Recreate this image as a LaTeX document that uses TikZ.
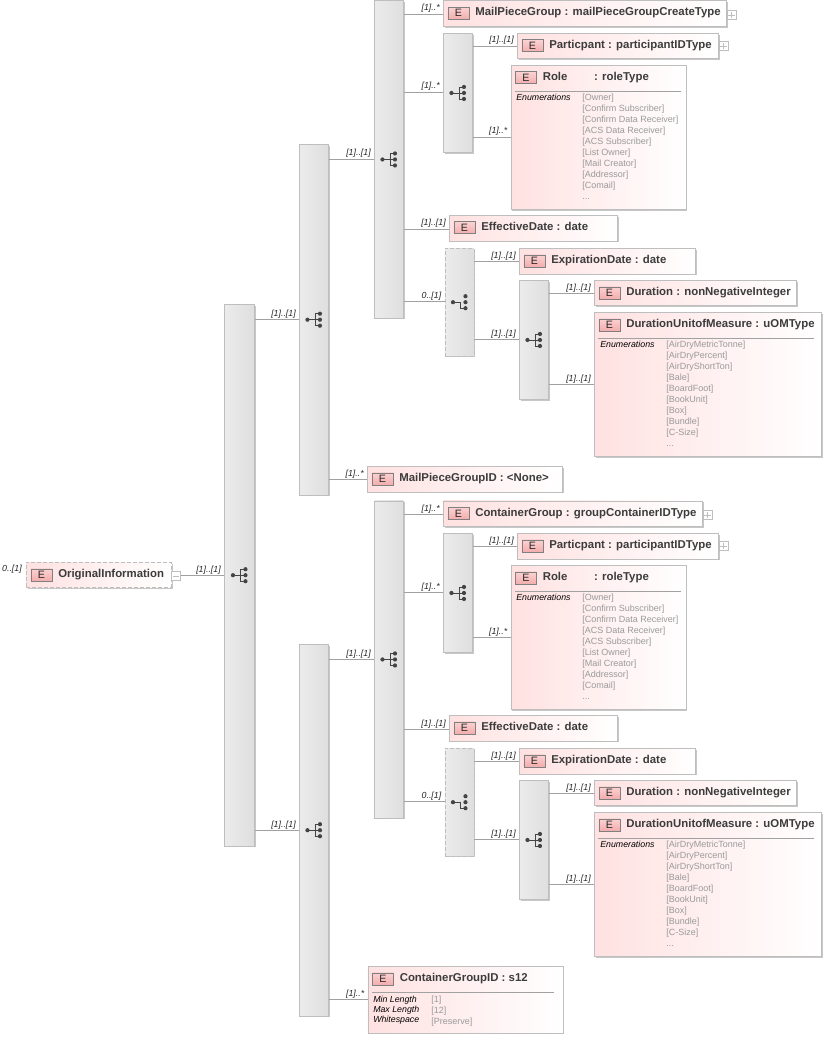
\documentclass[tikz,border=0pt]{standalone}
\usepackage{fontspec}
\setmainfont{Liberation Sans}
\usetikzlibrary{shadows}
\definecolor{pk}{HTML}{FFD2D2}
\definecolor{edge}{HTML}{BEBEBE}
\definecolor{titlec}{HTML}{3C3C3C}
\definecolor{valc}{HTML}{9A9A9A}
\definecolor{bl}{HTML}{F2F2F2}
\definecolor{br}{HTML}{D8D8D8}
\definecolor{ico}{HTML}{444444}
\definecolor{el}{HTML}{FFE4E4}
\definecolor{er}{HTML}{F09A9A}
\pgfdeclarehorizontalshading{pinkfade}{100bp}{color(0bp)=(pk);color(75bp)=(white);color(100bp)=(white)}
\pgfdeclarehorizontalshading{barfade}{100bp}{color(0bp)=(bl);color(100bp)=(br)}
\pgfdeclareverticalshading{efade}{100bp}{color(0bp)=(er);color(100bp)=(el)}
\tikzset{
  softshadow/.style={drop shadow={shadow xshift=.9pt,shadow yshift=-.9pt,fill=black,opacity=.22}},
  box/.style={draw=edge,line width=.7pt,inner sep=0pt,anchor=north west,shading=pinkfade,softshadow},
  bar/.style={draw=edge,line width=.7pt,inner sep=0pt,anchor=north west,shading=barfade,softshadow},
  opt/.style={dash pattern=on 3pt off 1.5pt},
  conn/.style={draw=edge!85!black,line width=.6pt},
  mult/.style={inner sep=0pt,anchor=base east,font=\fontsize{6.6}{8}\selectfont\itshape,text=black!85},
  titletxt/.style={inner sep=0pt,anchor=base west,font=\fontsize{8.55}{10}\selectfont\bfseries,text=titlec},
  etag/.style={draw=black!50,line width=.5pt,inner sep=0pt,anchor=north west,minimum width=16pt,minimum height=9pt,shading=efade,font=\fontsize{8}{8}\selectfont,text=black!85,text depth=0pt},
  facetkey/.style={inner sep=0pt,anchor=north west,align=left,font=\fontsize{6.6}{8}\selectfont\itshape,text=black},
  facetval/.style={inner sep=0pt,anchor=north west,align=left,font=\fontsize{6.75}{8.25}\selectfont,text=valc},
  tog/.style={draw=edge,line width=.5pt,fill=white,inner sep=0pt,minimum size=6.8pt,anchor=north west},
  rule/.style={draw=edge!85!black,line width=.6pt},
}
\newcommand{\nl}{\\{}}
\newcommand{\elembox}[7][]{% opts, id, x, y, w, h, title
  \node[box,#1,minimum width=#5*.75pt,minimum height=#6*.75pt] (#2) at (#3,#4) {};
  \node[etag] (#2-e) at (#3+4.5,#4+6.5) {E};
  \node[titletxt] (#2-t) at (#3+32,#4+15.5) {#7};
}
\newcommand{\seqbar}[6][]{% opts, id, x, y, w, h
  \node[bar,#1,minimum width=#5*.75pt,minimum height=#6*.75pt] (#2) at (#3,#4) {};
}
\newcommand{\seqicon}[1]{%
  \begin{scope}[shift={(#1.center)}]
    \draw[ico,line width=.6pt] (-6,0) -- (1,0) (1,-6) -- (1,6) (1,-6) -- (6,-6) (1,0) -- (6,0) (1,6) -- (6,6);
    \fill[ico] (-6.5,0) circle[radius=2.1] (6,-6) circle[radius=2.1] (6,0) circle[radius=2.1] (6,6) circle[radius=2.1];
  \end{scope}}
\newcommand{\choiceicon}[1]{%
  \begin{scope}[shift={(#1.center)}]
    \draw[ico,line width=.6pt] (-6,0) -- (1,0) -- (1,6) -- (6,6);
    \fill[ico] (-6.5,0) circle[radius=2.1] (6,-6) circle[radius=2.1] (6,0) circle[radius=2.1] (6,6) circle[radius=2.1];
  \end{scope}}
\newcommand{\linkup}[4]{% from, to, y, label
  \draw[conn] (#1.east |- 0,#3) -- (#2.west |- 0,#3);
  \path (#2.west |- 0,#3) ++(-3,-3) node[mult] (#1-#2-m) {#4};
}
\newcommand{\togbox}[4]{% id, x, y, plus or minus
  \node[tog] (#1) at (#2,#3) {};
  \draw[edge,line width=.5pt] ([xshift=1.3pt]#1.west) -- ([xshift=-1.3pt]#1.east);
  \ifx#4p\draw[edge,line width=.5pt] ([yshift=1.3pt]#1.south) -- ([yshift=-1.3pt]#1.north);\fi
}
\newcommand{\branch}[4]{% prefix, head title, head width, head toggle x
  \seqbar{#1s}{374}{0.5}{29}{317}
  \seqicon{#1s}
  \elembox{#1g}{443}{0.5}{#3}{25.5}{#2}
  \togbox{#1gt}{#4}{10}{p}
  \seqbar{#1r}{443}{33}{29}{119}
  \seqicon{#1r}
  \elembox{#1p}{517}{33}{201}{25.5}{Particpant : participantIDType}
  \togbox{#1pt}{718.5}{41}{p}
  \elembox{#1o}{510.5}{65}{175}{144}{Role\hspace{20pt}: roleType}
  \draw[rule] (514.5,91) -- (681,91);
  \node[facetkey] (#1ok) at (516,94) {Enumerations};
  \node[facetval] (#1ov) at (582,94) {[Owner]\nl [Confirm Subscriber]\nl [Confirm Data Receiver]\nl [ACS Data Receiver]\nl [ACS Subscriber]\nl [List Owner]\nl [Mail Creator]\nl [Addressor]\nl [Comail]\nl ...};
  \elembox{#1f}{449}{215}{168}{25.5}{EffectiveDate : date}
  \seqbar[opt]{#1c}{444.5}{248}{29}{107.5}
  \choiceicon{#1c}
  \elembox{#1x}{519}{248}{176}{25.5}{ExpirationDate : date}
  \seqbar{#1u}{519}{280}{29}{119}
  \seqicon{#1u}
  \elembox{#1d}{594}{280}{202}{25}{Duration : nonNegativeInteger}
  \elembox{#1m}{594}{312}{227}{144}{DurationUnitofMeasure : uOMType}
  \draw[rule] (598,338) -- (814,338);
  \node[facetkey] (#1mk) at (600,341) {Enumerations};
  \node[facetval] (#1mv) at (666,341) {[AirDryMetricTonne]\nl [AirDryPercent]\nl [AirDryShortTon]\nl [Bale]\nl [BoardFoot]\nl [BookUnit]\nl [Box]\nl [Bundle]\nl [C-Size]\nl ...};
  \linkup{#1s}{#1g}{14}{[1]..*}
  \linkup{#1s}{#1r}{92}{[1]..*}
  \linkup{#1s}{#1f}{229}{[1]..[1]}
  \linkup{#1s}{#1c}{301}{0..[1]}
  \linkup{#1r}{#1p}{46}{[1]..[1]}
  \linkup{#1r}{#1o}{137}{[1]..*}
  \linkup{#1c}{#1x}{261}{[1]..[1]}
  \linkup{#1c}{#1u}{339}{[1]..[1]}
  \linkup{#1u}{#1d}{293}{[1]..[1]}
  \linkup{#1u}{#1m}{384}{[1]..[1]}
}
\begin{document}
\begin{tikzpicture}[x=.75pt,y=-.75pt]
\useasboundingbox (0,0) rectangle (827,1041);
% root
\elembox[opt]{root}{26}{562}{145}{25}{OriginalInformation}
\togbox{rootm}{171}{571}{m}
\node[mult] (rootmult) at (22,571.5) {0..[1]};
\seqbar{main}{224}{304}{30}{541.5}
\seqicon{main}
\seqbar{upper}{299}{144}{29}{350.5}
\seqicon{upper}
\seqbar{lower}{299}{644}{29}{371.5}
\seqicon{lower}
\branch{a}{MailPieceGroup : mailPieceGroupCreateType}{283}{726.5}
\begin{scope}[shift={(0,500)}]
\branch{b}{ContainerGroup : groupContainerIDType}{259}{702.5}
\end{scope}
\elembox{gid}{367}{466}{195}{25.5}{MailPieceGroupID : <None>}
\elembox{cid}{367.5}{966}{195}{66.5}{ContainerGroupID : s12}
\draw[rule] (372,992) -- (554,992);
\node[facetkey] (cidk) at (373,996) {Min Length\\[-.4pt] Max Length\\[-.4pt] Whitespace};
\node[facetval] (cidv) at (431,996) {[1]\\[-.2pt] [12]\\[-.2pt] [Preserve]};
\linkup{rootm}{main}{575}{[1]..[1]}
\linkup{main}{upper}{319}{[1]..[1]}
\linkup{main}{lower}{830}{[1]..[1]}
\linkup{upper}{as}{159}{[1]..[1]}
\linkup{upper}{gid}{479}{[1]..*}
\linkup{lower}{bs}{659}{[1]..[1]}
\linkup{lower}{cid}{999}{[1]..*}
\end{tikzpicture}
\end{document}
